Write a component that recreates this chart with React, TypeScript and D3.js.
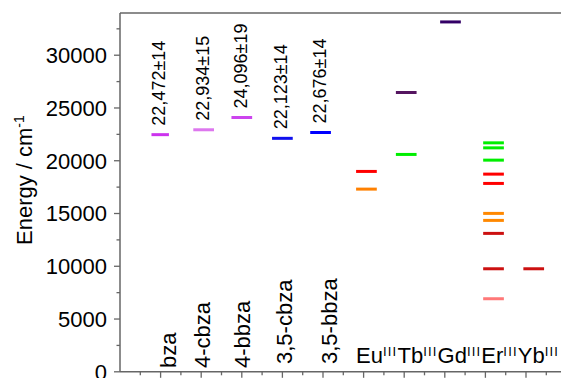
import React from "react";
import * as d3 from "d3";

// Ligand triplet levels (cm^-1) with their quoted uncertainties
const ligands = ["bza", "4-cbza", "4-bbza", "3,5-cbza", "3,5-bbza"];
const ligandEnergy = [22472, 22934, 24096, 22123, 22676];
const ligandError = [14, 15, 19, 14, 14];
const ligandPos = [0.99, 2.06, 3.0, 4.0, 4.94];
const ligandLabelPos = [1.37, 2.22, 3.2, 4.23, 5.34];
const ligandColor = ["#cc33ee", "#dd77ee", "#cc44ee", "#1010ee", "#0000ff"];

// Lanthanide ions and their emissive / accepting levels (cm^-1)
const ions = ["Eu", "Tb", "Gd", "Er", "Yb"];
const ionPos = [6.07, 7.05, 8.14, 9.2, 10.19];
const ionLevels: number[][] = [
  [18987, 17311],
  [26469, 20597],
  [33154],
  [21696, 21222, 20057, 18732, 17850, 15010, 14347, 13116, 9763, 6923],
  [9763],
];
const ionLevelColor: string[][] = [
  ["#ff0000", "#ff8000"],
  ["#551560", "#00ee00"],
  ["#330066"],
  ["#00ee00", "#00ee00", "#00ee00", "#ff0000", "#ff0000", "#ff8800", "#ff8800", "#cc1010", "#cc1010", "#ff7878"],
  ["#cc1010"],
];

const yTicks = [0, 5000, 10000, 15000, 20000, 25000, 30000];

const W = 561;
const H = 378;
const FONT = "'Liberation Sans', Arial, Helvetica, sans-serif";

export default function App() {
  const x = d3.scaleLinear().domain([0, 11]).range([120, 120 + 11 * 40.6]);
  const y = d3.scaleLinear().domain([0, 34000]).range([371.8, 13]);
  const axisColor = "#666";

  const majorX = d3.range(1, 11);
  const minorX = d3.range(0.5, 11, 1);
  const minorY = d3.range(2500, 34000, 5000);

  const halfW = 0.255;
  const supShift = 7;

  return (
    <div style={{ position: "absolute", left: 0, top: 0 }}>
      <svg width={W} height={H} style={{ display: "block", fontFamily: FONT }}>
        <rect width={W} height={H} fill="#fff" />

        {/* frame */}
        <line x1={x(0)} x2={x(11)} y1={y(34000)} y2={y(34000)} stroke={axisColor} strokeWidth={1.5} />
        <line x1={x(0)} x2={x(0)} y1={y(0)} y2={y(34000)} stroke={axisColor} strokeWidth={1.5} />
        <line x1={x(0)} x2={x(11)} y1={y(0)} y2={y(0)} stroke={axisColor} strokeWidth={1.5} />

        {/* y ticks */}
        {yTicks.map((t) => (
          <g key={"yt" + t}>
            <line x1={x(0) - 6} x2={x(0)} y1={y(t)} y2={y(t)} stroke={axisColor} strokeWidth={1.3} />
            <text x={107} y={y(t)} dy="0.36em" textAnchor="end" fontSize={22} fill="#000">
              {t}
            </text>
          </g>
        ))}
        {minorY.map((t) => (
          <line key={"ym" + t} x1={x(0) - 3.5} x2={x(0)} y1={y(t)} y2={y(t)} stroke={axisColor} strokeWidth={1.3} />
        ))}

        {/* x ticks */}
        {majorX.map((t) => (
          <line key={"xt" + t} x1={x(t)} x2={x(t)} y1={y(0)} y2={y(0) + 6} stroke={axisColor} strokeWidth={1.3} />
        ))}
        {minorX.map((t) => (
          <line key={"xm" + t} x1={x(t)} x2={x(t)} y1={y(0)} y2={y(0) + 3.5} stroke={axisColor} strokeWidth={1.3} />
        ))}

        {/* y axis title */}
        <text transform={`translate(31.7,245) rotate(-90)`} fontSize={22} fill="#000">
          Energy / cm
          <tspan fontSize={14} dy={-8}>-1</tspan>
        </text>

        {/* ligand levels */}
        {ligands.map((name, i) => {
          const cx = x(ligandPos[i]);
          const w = i === 0 ? 0.215 : halfW;
          const yy = y(ligandEnergy[i]);
          return (
            <g key={name}>
              <line
                x1={x(ligandPos[i] - w)}
                x2={x(ligandPos[i] + w)}
                y1={yy}
                y2={yy}
                stroke={ligandColor[i]}
                strokeWidth={3}
              />
              <text transform={`translate(${cx + 5},${yy - 9}) rotate(-90)`} fontSize={18} fill="#000">
                {d3.format(",")(ligandEnergy[i])}±{ligandError[i]}
              </text>
              <text
                transform={`translate(${x(ligandLabelPos[i])},${i < 3 ? 368 : 364}) rotate(-90)`}
                fontSize={22}
                fill="#000"
              >
                {name}
              </text>
            </g>
          );
        })}

        {/* lanthanide levels */}
        {ions.map((ion, i) =>
          ionLevels[i].map((e, j) => (
            <line
              key={ion + j}
              x1={x(ionPos[i] - halfW)}
              x2={x(ionPos[i] + halfW)}
              y1={y(e)}
              y2={y(e)}
              stroke={ionLevelColor[i][j]}
              strokeWidth={3}
            />
          ))
        )}

        {/* ion labels with oxidation-state superscripts */}
        <text x={x(ionPos[0] - halfW)} y={362.5} fontSize={22} fill="#000">
          {ions.map((ion, i) => (
            <React.Fragment key={"l" + ion}>
              <tspan fontSize={22} dy={i === 0 ? 0 : supShift}>
                {ion}
              </tspan>
              <tspan fontSize={13} dy={-supShift} letterSpacing={1.2}>
                III
              </tspan>
            </React.Fragment>
          ))}
        </text>
      </svg>
    </div>
  );
}
